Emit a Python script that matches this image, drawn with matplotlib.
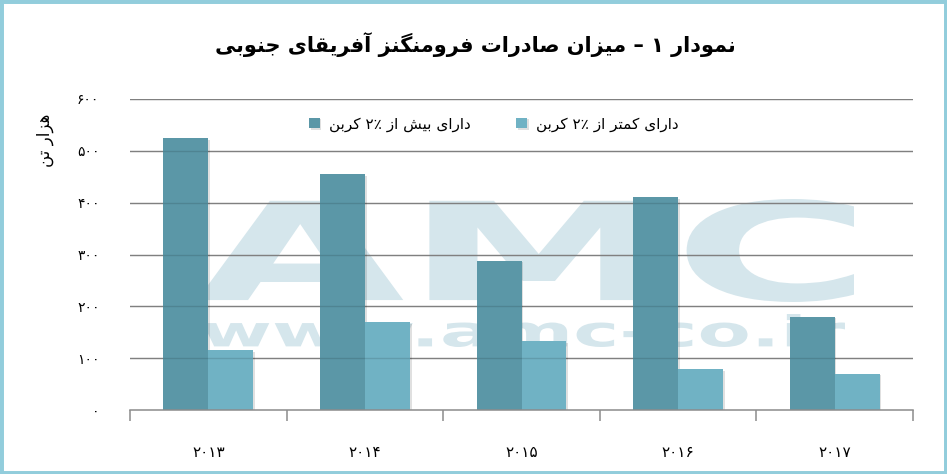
import matplotlib
matplotlib.use("Agg")
import matplotlib.pyplot as plt
import matplotlib.transforms as mtransforms
import matplotlib.patheffects as pe
from matplotlib.textpath import TextPath
from matplotlib.patches import PathPatch, Rectangle
from matplotlib.font_manager import FontProperties
import numpy as np

# Data (thousand tonnes)
years = ["2013", "2014", "2015", "2016", "2017"]
above_2pct = [525, 455, 288, 410, 180]
below_2pct = [115, 170, 133, 79, 70]
y_ticks = [0, 100, 200, 300, 400, 500, 600]

title = "نمودار ۱ – میزان صادرات فرومنگنز آفریقای جنوبی"
ylabel = "هزار تن"
label_above = "دارای بیش از ۲٪ کربن"
label_below = "دارای کمتر از ۲٪ کربن"

# --- minimal Persian shaping (matplotlib has no complex text layout) ---
FORMS = {
    "ا": ("\uFE8D", "\uFE8E", None, None),
    "آ": ("\uFE81", "\uFE82", None, None),
    "د": ("\uFEA9", "\uFEAA", None, None),
    "ر": ("\uFEAD", "\uFEAE", None, None),
    "ز": ("\uFEAF", "\uFEB0", None, None),
    "و": ("\uFEED", "\uFEEE", None, None),
    "ب": ("\uFE8F", "\uFE90", "\uFE91", "\uFE92"),
    "پ": ("\uFB56", "\uFB57", "\uFB58", "\uFB59"),
    "ت": ("\uFE95", "\uFE96", "\uFE97", "\uFE98"),
    "ج": ("\uFE9D", "\uFE9E", "\uFE9F", "\uFEA0"),
    "س": ("\uFEB1", "\uFEB2", "\uFEB3", "\uFEB4"),
    "ش": ("\uFEB5", "\uFEB6", "\uFEB7", "\uFEB8"),
    "ص": ("\uFEB9", "\uFEBA", "\uFEBB", "\uFEBC"),
    "ف": ("\uFED1", "\uFED2", "\uFED3", "\uFED4"),
    "ق": ("\uFED5", "\uFED6", "\uFED7", "\uFED8"),
    "ک": ("\uFB8E", "\uFB8F", "\uFB90", "\uFB91"),
    "گ": ("\uFB92", "\uFB93", "\uFB94", "\uFB95"),
    "ل": ("\uFEDD", "\uFEDE", "\uFEDF", "\uFEE0"),
    "م": ("\uFEE1", "\uFEE2", "\uFEE3", "\uFEE4"),
    "ن": ("\uFEE5", "\uFEE6", "\uFEE7", "\uFEE8"),
    "ه": ("\uFEE9", "\uFEEA", "\uFEEB", "\uFEEC"),
    "ی": ("\uFBFC", "\uFBFD", "\uFBFE", "\uFBFF"),
}
LTR = set("0123456789۰۱۲۳۴۵۶۷۸۹٪%")
FA_DIGITS = str.maketrans("0123456789", "۰۱۲۳۴۵۶۷۸۹")


def fa(s):
    shaped = []
    for i, ch in enumerate(s):
        if ch not in FORMS:
            shaped.append(ch)
            continue
        iso, fin, ini, med = FORMS[ch]
        prev = s[i - 1] if i > 0 else ""
        nxt = s[i + 1] if i + 1 < len(s) else ""
        jp = prev in FORMS and FORMS[prev][2] is not None
        jn = ini is not None and nxt in FORMS
        if jp and jn:
            shaped.append(med)
        elif jp:
            shaped.append(fin)
        elif jn:
            shaped.append(ini)
        else:
            shaped.append(iso)
    # reverse for RTL, keeping number runs left-to-right
    tokens = []
    for ch in shaped:
        if ch in LTR and tokens and tokens[-1][0] in LTR:
            tokens[-1] += ch
        else:
            tokens.append(ch)
    return "".join(reversed(tokens))


W, H = 947, 474
fig = plt.figure(figsize=(W / 100, H / 100), dpi=100)
plt.rcParams["font.family"] = ["DejaVu Sans"]


def px(x, y):
    return x / W, 1 - y / H


ax = fig.add_axes([130 / W, 1 - 410 / H, (913 - 130) / W, (410 - 99) / H])

# watermark
def stamp(txt, x0, y_top, x1, y_bot, color):
    tp = TextPath((0, 0), txt, size=100, prop=FontProperties(family="DejaVu Sans", weight="bold"))
    bb = tp.get_extents()
    fx0, fy0 = px(x0, y_bot)
    fx1, fy1 = px(x1, y_top)
    tr = (mtransforms.Affine2D().translate(-bb.x0, -bb.y0)
          .scale((fx1 - fx0) / bb.width, (fy1 - fy0) / bb.height).translate(fx0, fy0))
    patch = PathPatch(tr.transform_path(tp), fc=color, ec="none",
                      transform=fig.transFigure, zorder=0.5, clip_on=False)
    ax.add_patch(patch)


stamp("AMC", 197, 199, 854, 302, "#d5e6ec")
stamp("www.amc-co.ir", 203, 314, 845, 347, "#d5e6ec")

x = np.arange(len(years))
bw = 0.287
dark = "#5b97a7"
light = "#70b2c4"

for v in y_ticks[1:]:
    ax.axhline(v, color="#929292", lw=1.0, zorder=1)

shadow = [pe.SimplePatchShadow(offset=(1.2, -1.2), shadow_rgbFace="#000000", alpha=0.12), pe.Normal()]
b1 = ax.bar(x - bw / 2, above_2pct, bw, color=dark, zorder=2, label=fa(label_above))
b2 = ax.bar(x + bw / 2, below_2pct, bw, color=light, zorder=2, label=fa(label_below))
for b in list(b1) + list(b2):
    b.set_path_effects(shadow)

# faint gridlines showing through the bars
for v in y_ticks[1:]:
    ax.axhline(v, color="#000000", alpha=0.12, lw=1.0, zorder=3)

ax.set_xlim(-0.5, len(years) - 0.5)
ax.set_ylim(0, 600)

for s in ["top", "right", "left"]:
    ax.spines[s].set_visible(False)
ax.spines["bottom"].set_color("#8c8c8c")
ax.spines["bottom"].set_linewidth(1.1)
ax.spines["bottom"].set_zorder(4)

ax.set_xticks(np.arange(len(years) + 1) - 0.5)
ax.set_xticklabels([])
ax.tick_params(axis="x", which="major", length=8, color="#8c8c8c", width=1.1)
ax.set_xticks(x, minor=True)
ax.set_xticklabels([y.translate(FA_DIGITS) for y in years], minor=True, fontsize=11)
ax.tick_params(axis="x", which="minor", length=0, pad=25)

ax.set_yticks(y_ticks)
ax.set_yticklabels([str(v).translate(FA_DIGITS) for v in y_ticks], fontsize=10)
ax.tick_params(axis="y", length=0, pad=22)

fig.text(*px(45, 140), fa(ylabel), rotation=90, ha="center", va="center", fontsize=12)
fig.text(*px(475, 45), fa(title), ha="center", va="center", fontsize=15, fontweight="bold")

ax.legend(handles=[b1, b2], ncol=2, loc="center", bbox_to_anchor=((494 - 130) / 783, (410 - 124) / 311),
          frameon=False, fontsize=11, handlelength=0.7, handleheight=0.7, handletextpad=0.6,
          columnspacing=3.0)

fig.add_artist(Rectangle((0, 0), 1, 1, transform=fig.transFigure, fill=False,
                         ec="#92cddc", lw=5, clip_on=False))

fig.savefig("out.png", dpi=100)
